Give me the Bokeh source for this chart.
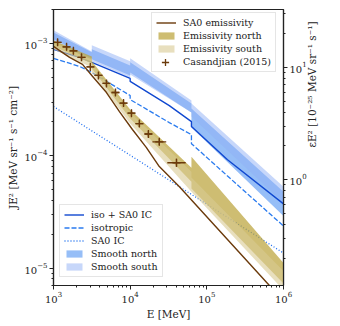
import math
from bokeh.plotting import figure
from bokeh.models import Range1d, LogAxis, LogScale, LogTicker, Legend, LegendItem
from bokeh.embed import file_html
from bokeh.resources import INLINE
import numpy as np

# ---------------- data ----------------
# SA0 emissivity (brown line)
sa0_E = [1000, 1620, 2390, 3220, 4910, 7250, 10700, 16300, 24000, 43900, 655000, 1000000]
sa0_J = [9.4e-4, 7.5e-4, 6.5e-4, 5.1e-4, 3.65e-4, 2.47e-4, 1.71e-4, 1.18e-4, 8.0e-5, 5.3e-5, 7.0e-6, 5.2e-6]

# model lines
model_E = [1000, 2190, 3160, 10000, 10000, 32400, 63000, 63000, 186000, 1000000]
iso_ic_J = [8.84e-4, 7.5e-4, 6.76e-4, 4.87e-4, 4.58e-4, 2.79e-4, 2.01e-4, 1.82e-4, 9.2e-5, 3.73e-5]
iso_J = [7.35e-4, 6.23e-4, 5.51e-4, 3.43e-4, 3.16e-4, 1.97e-4, 1.54e-4, 1.28e-4, 6.6e-5, 2.37e-5]
ic_E = [1000, 10000, 100000, 1000000]
ic_J = [2.74e-4, 1.01e-4, 3.70e-5, 1.36e-5]

# smooth bands (blue)
smooth_E = [1000, 3160, 3160, 10000, 10000, 63000, 63000, 1000000]
sm_north_hi = [1.25e-3, 8.31e-4, 8.84e-4, 6.36e-4, 6.77e-4, 2.91e-4, 2.63e-4, 4.78e-5]
sm_north_lo = [1.087e-3, 7.35e-4, 7.2e-4, 5.18e-4, 5.51e-4, 2.42e-4, 1.78e-4, 2.91e-5]
sm_south_hi = [1.31e-3, 8.48e-4, 9.6e-4, 6.91e-4, 7.35e-4, 3.1e-4, 2.91e-4, 5.29e-5]
sm_south_lo = [1.04e-3, 7.05e-4, 6.91e-4, 4.97e-4, 5.29e-4, 2.42e-4, 2.23e-4, 3.8e-5]

# emissivity bands (gold)
emis_E = [1000, 3160, 3160, 10000, 63000, 63000, 1000000]
em_north_hi = [1.06e-3, 7.65e-4, 6.91e-4, 2.58e-4, 7.82e-5, 9.8e-5, 1.11e-5]
em_north_lo = [9.4e-4, 6.62e-4, 5.98e-4, 2.14e-4, 5.86e-5, 5.1e-5, 7.3e-6]
em_south_hi = [1.0e-3, 7.2e-4, 6.49e-4, 2.42e-4, 7.2e-5, 6.4e-5, 9.4e-6]
em_south_lo = [8.84e-4, 6.1e-4, 5.51e-4, 1.93e-4, 4.78e-5, 4.78e-5, 6.37e-6]

# Casandjian (2015)
cas_E = [1130, 1480, 1820, 2320, 3030, 3860, 4910, 6430, 8190, 10400, 13200, 17300, 24000, 40200]
cas_J = [1.02e-3, 9.3e-4, 8.57e-4, 7.5e-4, 6.17e-4, 5.18e-4, 4.4e-4, 3.65e-4, 2.94e-4, 2.39e-4,
         1.93e-4, 1.56e-4, 1.33e-4, 8.66e-5]
cas_dlogE = [0.05, 0.05, 0.05, 0.05, 0.05, 0.05, 0.05, 0.05, 0.05, 0.05, 0.05, 0.05, 0.09, 0.12]
cas_dlogJ = [0.03, 0.03, 0.03, 0.03, 0.03, 0.03, 0.03, 0.03, 0.03, 0.03, 0.03, 0.03, 0.03, 0.035]

# axes
x_lim = (1e3, 1e6)
y_lim = (7e-6, 2e-3)
right_factor = 16370.0   # 1e-25 MeV sr^-1 s^-1 per MeV sr^-1 s^-1 cm^-2

FONT = "DejaVu Serif"
BROWN = "#6b3a0b"
GOLD_N = "#bba33c"
GOLD_S = "#d8ca92"
BLUE_N = "#3f88f0"
BLUE_S = "#8fb0f6"
INK = "#222222"

p = figure(width=338, height=322, x_axis_type="log", y_axis_type="log",
           x_range=Range1d(*x_lim), y_range=Range1d(*y_lim),
           output_backend="svg", toolbar_location=None,
           min_border_left=53, min_border_right=55, min_border_top=9, min_border_bottom=37)
p.xgrid.visible = False
p.ygrid.visible = False
p.outline_line_color = INK
p.outline_line_width = 1.2
p.background_fill_color = "white"
p.border_fill_color = "white"

p.extra_y_ranges = {"right": Range1d(y_lim[0] * right_factor, y_lim[1] * right_factor)}
p.extra_y_scales = {"right": LogScale()}
raxis = LogAxis(y_range_name="right", ticker=LogTicker(num_minor_ticks=10))
p.add_layout(raxis, "right")

p.xaxis.ticker = LogTicker(num_minor_ticks=10)
p.yaxis.ticker = LogTicker(num_minor_ticks=10)
for ax in [p.xaxis[0], p.yaxis[0], raxis]:
    ax.axis_line_color = INK
    ax.axis_line_width = 1.2
    ax.major_tick_in = 0
    ax.major_tick_out = 4
    ax.minor_tick_in = 0
    ax.minor_tick_out = 2
    ax.major_tick_line_color = INK
    ax.minor_tick_line_color = INK
    ax.major_label_text_font = FONT
    ax.major_label_text_font_size = "10px"
    ax.major_label_text_color = INK
    ax.axis_label_text_font = FONT
    ax.axis_label_text_font_size = "10.5px"
    ax.axis_label_text_font_style = "normal"
    ax.axis_label_text_color = INK
    ax.major_label_standoff = 2
    ax.axis_label_standoff = 2

raxis.axis_label_orientation = math.pi / 2

p.xaxis.axis_label = "E [MeV]"
p.yaxis.axis_label = "JE\u00b2 [MeV sr\u207b\u00b9 s\u207b\u00b9 cm\u207b\u00b2]"
raxis.axis_label = "\u03b5E\u00b2 [10\u207b\u00b2\u2075 MeV sr\u207b\u00b9 s\u207b\u00b9]"

# blue bands
r_smn = p.varea(x=smooth_E, y1=sm_north_lo, y2=sm_north_hi, fill_color=BLUE_N, fill_alpha=0.55)
r_sms = p.varea(x=smooth_E, y1=sm_south_lo, y2=sm_south_hi, fill_color=BLUE_S, fill_alpha=0.5)

# blue lines
r_ic = p.line(ic_E, ic_J, line_color="#1f6ff0", line_width=1.3, line_dash="1 2")
r_iso = p.line(model_E, iso_J, line_color="#2a7bef", line_width=1.3, line_dash="5 2")
r_isoic = p.line(model_E, iso_ic_J, line_color="#1048d0", line_width=1.4)

# gold bands
r_emn = p.varea(x=emis_E, y1=em_north_lo, y2=em_north_hi, fill_color=GOLD_N, fill_alpha=0.72)
r_ems = p.varea(x=emis_E, y1=em_south_lo, y2=em_south_hi, fill_color=GOLD_S, fill_alpha=0.6)

# SA0 emissivity
r_sa0 = p.line(sa0_E, sa0_J, line_color=BROWN, line_width=1.4)

# Casandjian error bars
cE = np.array(cas_E, dtype=float)
cJ = np.array(cas_J, dtype=float)
dE = np.array(cas_dlogE)
dJ = np.array(cas_dlogJ)
p.segment(x0=cE / 10 ** dE, x1=cE * 10 ** dE, y0=cJ, y1=cJ, line_color=BROWN, line_width=1.3)
p.segment(x0=cE, x1=cE, y0=cJ / 10 ** dJ, y1=cJ * 10 ** dJ, line_color=BROWN, line_width=1.3)
r_cas = p.scatter(cas_E, cas_J, marker="cross", size=8, line_color=BROWN, line_width=1.3)
# invisible twin, used only as a placeholder in the boxed legend
r_cas_ph = p.scatter(cas_E, cas_J, marker="cross", size=8, line_color=BROWN, line_alpha=0)

def mk_legend(items, loc):
    lg = Legend(items=items, location=loc)
    lg.label_text_font = FONT
    lg.label_text_font_size = "9.5px"
    lg.label_text_color = INK
    lg.glyph_width = 20
    lg.glyph_height = 9
    lg.label_height = 11
    lg.label_standoff = 7
    lg.spacing = 2
    lg.padding = 4
    lg.margin = 0
    lg.border_line_color = "#cccccc"
    lg.border_line_width = 1
    lg.background_fill_alpha = 0.85
    return lg

leg1 = mk_legend([
    LegendItem(label="SA0 emissivity", renderers=[r_sa0]),
    LegendItem(label="Emissivity north", renderers=[r_emn]),
    LegendItem(label="Emissivity south", renderers=[r_ems]),
    LegendItem(label="Casandjian (2015)", renderers=[r_cas_ph]),
], (98, 213))
leg2 = mk_legend([
    LegendItem(label="iso + SA0 IC", renderers=[r_isoic]),
    LegendItem(label="isotropic", renderers=[r_iso]),
    LegendItem(label="SA0 IC", renderers=[r_ic]),
    LegendItem(label="Smooth north", renderers=[r_smn]),
    LegendItem(label="Smooth south", renderers=[r_sms]),
], (6, 8))
# larger "+" marker drawn over the placeholder slot of the first legend
leg3 = Legend(items=[LegendItem(label=" ", renderers=[r_cas])], location=(102, 214))
leg3.glyph_width = 20
leg3.glyph_height = 18
leg3.label_height = 18
leg3.label_standoff = 0
leg3.padding = 0
leg3.margin = 0
leg3.spacing = 0
leg3.label_text_font_size = "9px"
leg3.border_line_alpha = 0
leg3.background_fill_alpha = 0
p.add_layout(leg1, "center")
p.add_layout(leg2, "center")
p.add_layout(leg3, "center")

open("out.html", "w").write(file_html(p, INLINE))
